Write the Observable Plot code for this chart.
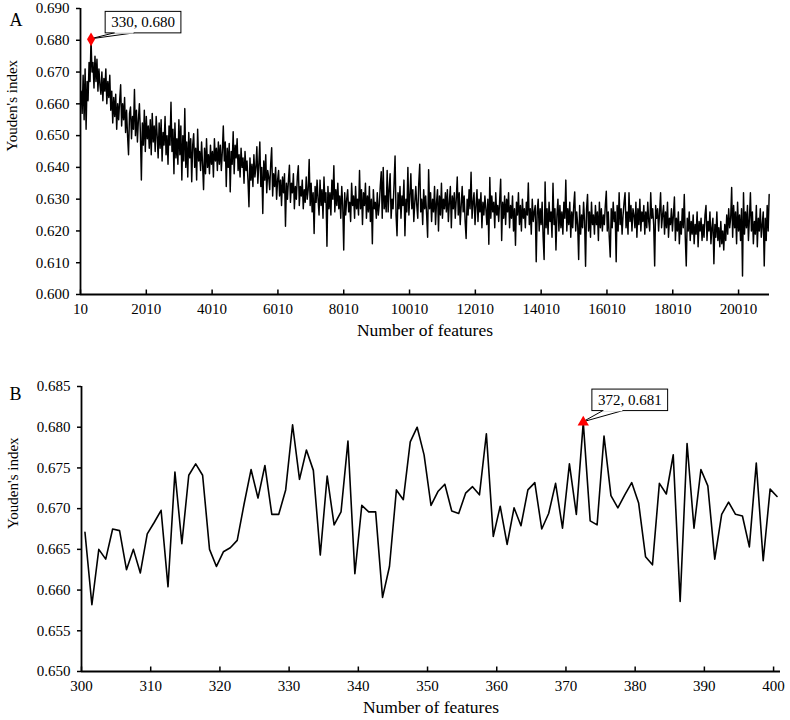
<!DOCTYPE html>
<html>
<head>
<meta charset="utf-8">
<script src="https://cdn.jsdelivr.net/npm/d3@7"></script>
<script src="https://cdn.jsdelivr.net/npm/@observablehq/plot@0.6"></script>
<style>
html, body { margin: 0; padding: 0; background: #fff; }
#chart { width: 790px; height: 720px; position: relative; background: #fff; }
#chart svg { display: block; }
</style>
</head>
<body>
<div id="chart"></div>
<script>
// ---------- Panel A: Youden's index vs number of features (sampled every 30 features) ----------
const firstFeatureA = 30;
const stepA = 30;
const youdenA = [
  0.664, 0.657, 0.669, 0.655, 0.671, 0.652, 0.667, 0.661, 0.673, 0.667,
  0.6803, 0.670, 0.673, 0.665, 0.675, 0.667, 0.674, 0.664, 0.671, 0.666,
  0.663, 0.670, 0.661, 0.668, 0.664, 0.671, 0.660, 0.667, 0.662, 0.669,
  0.658, 0.664, 0.654, 0.662, 0.656, 0.663, 0.652, 0.660, 0.655, 0.661,
  0.666, 0.653, 0.660, 0.655, 0.662, 0.651, 0.658, 0.650, 0.644, 0.657,
  0.659, 0.649, 0.656, 0.652, 0.6645, 0.650, 0.658, 0.648, 0.655, 0.660,
  0.651, 0.636, 0.654, 0.647, 0.658, 0.645, 0.656, 0.649, 0.653, 0.646,
  0.655, 0.644, 0.657, 0.648, 0.653, 0.645, 0.656, 0.650, 0.643, 0.654,
  0.646, 0.655, 0.642, 0.651, 0.647, 0.656, 0.644, 0.650, 0.641, 0.653,
  0.647, 0.6605, 0.645, 0.652, 0.638, 0.654, 0.643, 0.649, 0.641, 0.655,
  0.644, 0.653, 0.636, 0.650, 0.642, 0.6585, 0.640, 0.648, 0.637, 0.651,
  0.643, 0.649, 0.6355, 0.647, 0.6506, 0.640, 0.646, 0.636, 0.652, 0.642,
  0.645, 0.639, 0.648, 0.641, 0.633, 0.646, 0.638, 0.649, 0.640, 0.644,
  0.638, 0.647, 0.641, 0.645, 0.637, 0.649, 0.642, 0.646, 0.639, 0.648,
  0.641, 0.647, 0.639, 0.645, 0.653, 0.642, 0.648, 0.634, 0.646, 0.640,
  0.6475, 0.6323, 0.645, 0.641, 0.6512, 0.638, 0.647, 0.643, 0.649, 0.639,
  0.644, 0.637, 0.646, 0.640, 0.643, 0.635, 0.645, 0.639, 0.642, 0.636,
  0.6276, 0.643, 0.636, 0.641, 0.634, 0.644, 0.637, 0.640, 0.6465, 0.635,
  0.641, 0.648, 0.634, 0.640, 0.6255, 0.642, 0.636, 0.644, 0.632, 0.639,
  0.637, 0.633, 0.641, 0.6462, 0.631, 0.638, 0.634, 0.640, 0.630, 0.636,
  0.639, 0.631, 0.636, 0.628, 0.637, 0.632, 0.638, 0.6215, 0.635, 0.630,
  0.636, 0.6407, 0.629, 0.635, 0.632, 0.638, 0.627, 0.634, 0.630, 0.637,
  0.6405, 0.628, 0.634, 0.631, 0.636, 0.627, 0.633, 0.629, 0.637, 0.630,
  0.633, 0.6425, 0.628, 0.635, 0.626, 0.632, 0.6192, 0.634, 0.629, 0.636,
  0.630, 0.625, 0.636, 0.628, 0.633, 0.624, 0.637, 0.629, 0.632, 0.6152,
  0.634, 0.627, 0.632, 0.625, 0.636, 0.630, 0.6405, 0.626, 0.633, 0.628,
  0.635, 0.627, 0.631, 0.624, 0.634, 0.628, 0.614, 0.632, 0.625, 0.630,
  0.633, 0.626, 0.629, 0.623, 0.635, 0.628, 0.631, 0.624, 0.634, 0.627,
  0.630, 0.625, 0.639, 0.627, 0.633, 0.622, 0.632, 0.628, 0.635, 0.624,
  0.631, 0.626, 0.634, 0.623, 0.630, 0.616, 0.633, 0.627, 0.629, 0.624,
  0.632, 0.625, 0.628, 0.634, 0.6386, 0.624, 0.640, 0.627, 0.631, 0.626,
  0.639, 0.626, 0.633, 0.638, 0.624, 0.630, 0.627, 0.635, 0.6436, 0.625,
  0.6185, 0.632, 0.627, 0.634, 0.624, 0.631, 0.628, 0.636, 0.6185, 0.630,
  0.626, 0.640, 0.625, 0.631, 0.638, 0.627, 0.633, 0.623, 0.629, 0.634,
  0.628, 0.624, 0.635, 0.641, 0.626, 0.630, 0.622, 0.633, 0.627, 0.631,
  0.625, 0.618, 0.6393, 0.627, 0.632, 0.623, 0.630, 0.626, 0.634, 0.622,
  0.629, 0.633, 0.620, 0.631, 0.625, 0.635, 0.624, 0.630, 0.627, 0.632,
  0.626, 0.633, 0.623, 0.629, 0.634, 0.621, 0.631, 0.627, 0.632, 0.624,
  0.630, 0.637, 0.625, 0.632, 0.622, 0.628, 0.634, 0.626, 0.631, 0.623,
  0.6176, 0.630, 0.625, 0.633, 0.627, 0.6385, 0.624, 0.629, 0.632, 0.622,
  0.628, 0.633, 0.623, 0.630, 0.626, 0.632, 0.621, 0.629, 0.625, 0.631,
  0.627, 0.622, 0.630, 0.6158, 0.6368, 0.624, 0.631, 0.626, 0.629, 0.621,
  0.632, 0.625, 0.628, 0.623, 0.630, 0.6363, 0.617, 0.629, 0.624, 0.631,
  0.622, 0.630, 0.626, 0.632, 0.621, 0.628, 0.624, 0.631, 0.620, 0.627,
  0.6155, 0.629, 0.625, 0.632, 0.622, 0.628, 0.620, 0.630, 0.624, 0.627,
  0.621, 0.629, 0.625, 0.6351, 0.622, 0.627, 0.619, 0.630, 0.623, 0.626,
  0.628, 0.6103, 0.626, 0.630, 0.620, 0.627, 0.622, 0.629, 0.618, 0.611,
  0.6354, 0.621, 0.627, 0.619, 0.629, 0.623, 0.626, 0.618, 0.635, 0.622,
  0.627, 0.614, 0.625, 0.630, 0.620, 0.628, 0.621, 0.626, 0.619, 0.629,
  0.624, 0.636, 0.620, 0.627, 0.622, 0.629, 0.618, 0.626, 0.621, 0.628,
  0.6323, 0.620, 0.626, 0.622, 0.611, 0.628, 0.619, 0.625, 0.621, 0.629,
  0.623, 0.6089, 0.627, 0.6315, 0.620, 0.626, 0.618, 0.629, 0.622, 0.625,
  0.619, 0.628, 0.622, 0.626, 0.617, 0.629, 0.621, 0.627, 0.620, 0.625,
  0.622, 0.628, 0.6325, 0.620, 0.626, 0.618, 0.6118, 0.627, 0.621, 0.629,
  0.623, 0.626, 0.6103, 0.628, 0.620, 0.632, 0.622, 0.627, 0.619, 0.625,
  0.629, 0.632, 0.621, 0.626, 0.619, 0.632, 0.623, 0.628, 0.620, 0.627,
  0.625, 0.621, 0.629, 0.618, 0.627, 0.622, 0.630, 0.620, 0.626, 0.623,
  0.628, 0.619, 0.626, 0.621, 0.629, 0.623, 0.620, 0.632, 0.624, 0.627,
  0.622, 0.609, 0.628, 0.624, 0.627, 0.620, 0.626, 0.632, 0.621, 0.625,
  0.628, 0.619, 0.626, 0.621, 0.629, 0.618, 0.624, 0.622, 0.627, 0.620,
  0.625, 0.6307, 0.617, 0.624, 0.620, 0.626, 0.616, 0.623, 0.619, 0.627,
  0.621, 0.6315, 0.618, 0.609, 0.624, 0.620, 0.626, 0.617, 0.623, 0.619,
  0.625, 0.616, 0.622, 0.619, 0.626, 0.615, 0.623, 0.620, 0.624, 0.617,
  0.622, 0.618, 0.625, 0.628, 0.617, 0.623, 0.620, 0.626, 0.616, 0.621,
  0.624, 0.6097, 0.622, 0.618, 0.626, 0.617, 0.621, 0.615, 0.623, 0.616,
  0.620, 0.614, 0.622, 0.617, 0.625, 0.619, 0.627, 0.621, 0.624, 0.6337,
  0.618, 0.628, 0.621, 0.626, 0.616, 0.629, 0.620, 0.625, 0.617, 0.627,
  0.6058, 0.632, 0.619, 0.626, 0.621, 0.628, 0.617, 0.624, 0.632, 0.620,
  0.626, 0.616, 0.623, 0.619, 0.628, 0.615, 0.624, 0.620, 0.627, 0.618,
  0.622, 0.626, 0.609, 0.624, 0.617, 0.628, 0.620, 0.6315
];
const xDomainA = [10, 20950];
const xTicksA = [10, 2010, 4010, 6010, 8010, 10010, 12010, 14010, 16010, 18010, 20010];
const yDomainA = [0.600, 0.690];
const yTicksA = [0.600, 0.610, 0.620, 0.630, 0.640, 0.650, 0.660, 0.670, 0.680, 0.690];

// ---------- Panel B: detail, features 300-400 ----------
const featuresB = [
  300,301,302,303,304,305,306,307,308,309,310,311,312,313,314,315,316,317,318,319,
  320,321,322,323,324,325,326,327,328,329,330,331,332,333,334,335,336,337,338,339,
  340,341,342,343,344,345,346,347,348,349,350,351,352,353,354,355,356,357,358,359,
  360,361,362,363,364,365,366,367,368,369,370,371,372,373,374,375,376,377,378,379,
  380,381,382,383,384,385,386,387,388,389,390,391,392,393,394,395,396,397,398,399,400
];
const youdenB = [
  0.6671, 0.6582, 0.6650, 0.6638, 0.6675, 0.6673, 0.6625, 0.6650, 0.6621, 0.6669,
  0.6683, 0.6698, 0.6604, 0.6745, 0.6657, 0.6741, 0.6755, 0.6741, 0.6650, 0.6629,
  0.6647, 0.6652, 0.6661, 0.6706, 0.6748, 0.6713, 0.6753, 0.6693, 0.6693, 0.6723,
  0.6803, 0.6736, 0.6772, 0.6747, 0.6643, 0.6740, 0.6680, 0.6696, 0.6783, 0.6620,
  0.6704, 0.6696, 0.6696, 0.6591, 0.6629, 0.6723, 0.6711, 0.6782, 0.6800, 0.6766,
  0.6704, 0.6721, 0.6730, 0.6697, 0.6694, 0.6719, 0.6727, 0.6717, 0.6792, 0.6666,
  0.6703, 0.6656, 0.6701, 0.6679, 0.6723, 0.6732, 0.6675, 0.6694, 0.6731, 0.6676,
  0.6755, 0.6693, 0.6806, 0.6685, 0.6680, 0.6789, 0.6716, 0.6701, 0.6717, 0.6732,
  0.6707, 0.6641, 0.6631, 0.6731, 0.6718, 0.6766, 0.6586, 0.6780, 0.6676, 0.6748,
  0.6728, 0.6638, 0.6693, 0.6708, 0.6693, 0.6691, 0.6653, 0.6756, 0.6636, 0.6724,
  0.6715
];
const xDomainB = [300, 401];
const xTicksB = [300, 310, 320, 330, 340, 350, 360, 370, 380, 390, 400];
const yDomainB = [0.650, 0.685];
const yTicksB = [0.650, 0.655, 0.660, 0.665, 0.670, 0.675, 0.680, 0.685];

const panelLabels = ["A", "B"];
const xTitle = "Number of features";
const yTitle = "Youden's index";

// ---------- build ----------
const FONT = "'Liberation Serif', 'Times New Roman', Times, serif";
const fmt3 = d3.format(".3f");

const dataA = youdenA.map((v, i) => ({feature: firstFeatureA + i * stepA, value: v}));
const dataB = featuresB.map((f, i) => ({feature: f, value: youdenB[i]}));
const peakA = d3.greatest(dataA, d => d.value);
const peakB = d3.greatest(dataB, d => d.value);
peakA.label = `${peakA.feature}, ${fmt3(peakA.value)}`;
peakB.label = `${peakB.feature}, ${fmt3(peakB.value)}`;

function panel({data, xDomain, xTicks, yDomain, yTicks, width, height, mt, mb, ml, mr,
                lineWidth, xShift, peak, symbol, labelDx, labelDy, letter, letterDx, letterDy}) {
  const plotH = height - mt - mb;
  const xAcc = d => d.feature + xShift;
  return Plot.plot({
    width, height,
    marginTop: mt, marginBottom: mb, marginLeft: ml, marginRight: mr,
    style: {fontFamily: FONT, fontSize: "15px", color: "black", background: "white", overflow: "visible"},
    x: {domain: xDomain},
    y: {domain: yDomain},
    marks: [
      Plot.line(data, {x: xAcc, y: "value", stroke: "black", strokeWidth: lineWidth}),
      Plot.ruleX([xDomain[0]], {stroke: "black", strokeWidth: 1.8}),
      Plot.ruleY([yDomain[0]], {stroke: "black", strokeWidth: 1.8}),
      Plot.axisY({ticks: yTicks, tickFormat: ".3f", tickSize: 4, tickPadding: 7, label: null,
                  strokeWidth: 1.5, fontSize: 15}),
      Plot.axisX({ticks: xTicks, tickFormat: d => String(d), tickSize: 0, tickPadding: 9, label: null,
                  fontSize: 15}),
      Plot.tickX(xTicks, {x: d => d, insetTop: plotH - 4.5, stroke: "black", strokeWidth: 1.5}),
      Plot.text([peak], {x: xAcc, y: "value", text: "label", dx: labelDx, dy: labelDy,
                         fontSize: 15, fill: "black"}),
      Plot.dot([peak], {x: xAcc, y: "value", symbol, r: 4.2, fill: "red", stroke: "none"}),
      Plot.text([xTitle], {frameAnchor: "bottom", text: d => d, dy: 41, fontSize: 17.5, fill: "black"}),
      Plot.text([yTitle], {frameAnchor: "left", text: d => d, rotate: -90, dx: -68, fontSize: 15, fill: "black"}),
      Plot.text([letter], {frameAnchor: "top-left", text: d => d, dx: letterDx, dy: letterDy, fontSize: 18, fill: "black"})
    ]
  });
}

const chart = document.getElementById("chart");

const plotA = panel({
  data: dataA, xDomain: xDomainA, xTicks: xTicksA, yDomain: yDomainA, yTicks: yTicksA,
  width: 790, height: 345, mt: 8, mb: 51, ml: 80, mr: 21,
  lineWidth: 1.45, xShift: 0, peak: peakA, symbol: "diamond",
  labelDx: 52, labelDy: -17, letter: panelLabels[0], letterDx: -71, letterDy: 5
});
const plotB = panel({
  data: dataB, xDomain: xDomainB, xTicks: xTicksB, yDomain: yDomainB, yTicks: yTicksB,
  width: 790, height: 375, mt: 41, mb: 49, ml: 81, mr: 10,
  lineWidth: 1.6, xShift: 0.5, peak: peakB, symbol: "triangle",
  labelDx: 46.5, labelDy: -22.3, letter: panelLabels[1], letterDx: -72, letterDy: 1
});
chart.appendChild(plotA);
chart.appendChild(plotB);

// Callout boxes with a pointer back to the peak marker
function callout(svg, peak, xShift, wedgeA, wedgeB) {
  const sx = svg.scale("x"), sy = svg.scale("y");
  const mx = sx.apply(peak.feature + xShift), my = sy.apply(peak.value);
  const textEl = Array.from(svg.querySelectorAll("text")).find(t => t.textContent === peak.label);
  if (!textEl) return;
  const bb = textEl.getBBox();
  const pt = svg.createSVGPoint();
  const toRoot = (x, y) => { pt.x = x; pt.y = y; const r = pt.matrixTransform(textEl.getCTM()); return r.matrixTransform(svg.getCTM().inverse()); };
  const p0 = toRoot(bb.x, bb.y), p1 = toRoot(bb.x + bb.width, bb.y + bb.height);
  const cx = (p0.x + p1.x) / 2, cy = (p0.y + p1.y) / 2;
  const w = (p1.x - p0.x) + 12, h = 21.5;
  const left = cx - w / 2, top = cy - h / 2, bottom = cy + h / 2;
  const g = d3.select(svg).append("g").attr("class", "callout");
  g.append("path")
    .attr("d", `M${mx},${my}L${left + wedgeA},${bottom}L${left + wedgeB},${bottom}Z`)
    .attr("fill", "white").attr("stroke", "black").attr("stroke-width", 1);
  g.append("rect").attr("x", left).attr("y", top).attr("width", w).attr("height", h)
    .attr("fill", "white").attr("stroke", "black").attr("stroke-width", 1);
  g.append("line").attr("x1", left + wedgeA + 0.5).attr("y1", bottom)
    .attr("x2", left + wedgeB - 0.5).attr("y2", bottom).attr("stroke", "white").attr("stroke-width", 1.5);
  const textGroup = textEl.closest("g[aria-label='text']") || textEl.parentNode;
  svg.appendChild(textGroup);
  const dotGroup = svg.querySelector("g[aria-label='dot']");
  if (dotGroup) svg.appendChild(dotGroup);
}
callout(plotA, peakA, 0, 9, 29);
callout(plotB, peakB, 0.5, 11, 31);
</script>
</body>
</html>
